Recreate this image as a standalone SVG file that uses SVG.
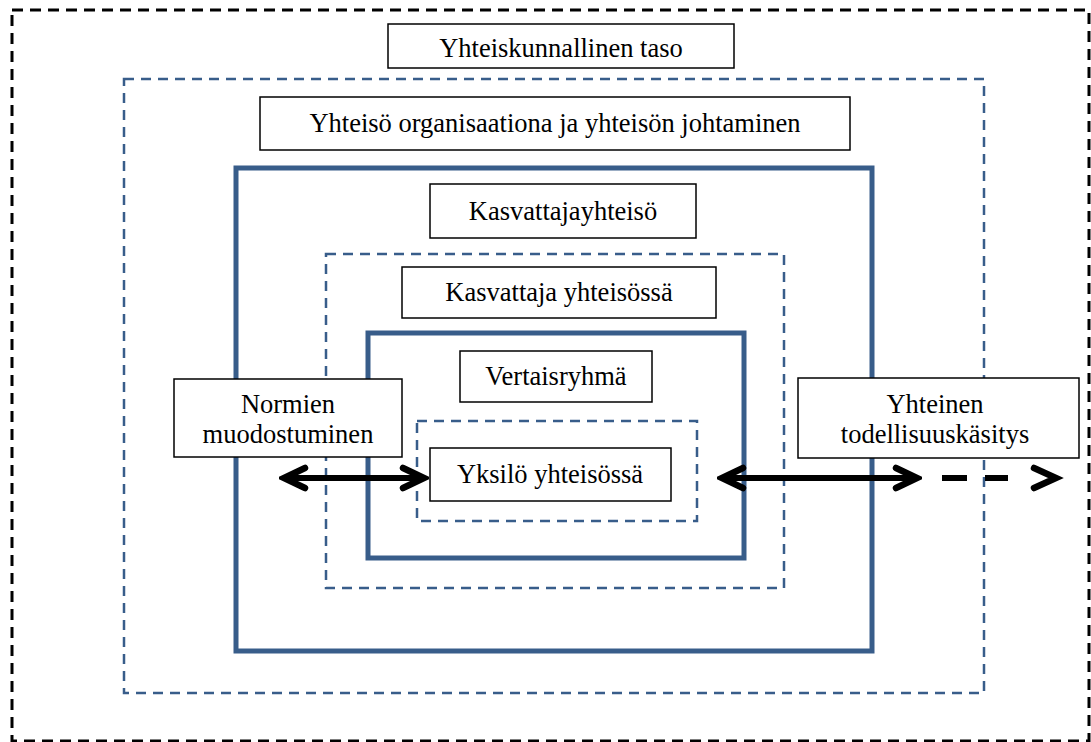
<svg xmlns="http://www.w3.org/2000/svg" width="1091" height="742" viewBox="0 0 1091 742">
  <style>
    .frame-outer { fill: none; stroke: #000; stroke-width: 3; stroke-dasharray: 11 7; }
    .frame-dash { fill: none; stroke: #385D8A; stroke-width: 2.5; stroke-dasharray: 10 7; }
    .frame-solid { fill: none; stroke: #385D8A; stroke-width: 5; }
    .box { fill: #fff; stroke: #000; stroke-width: 1.5; }
    .label { font-size: 26.5px; fill: #000; text-anchor: middle; }
    .arrow { fill: none; stroke: #000; stroke-width: 6; }
    .head { fill: none; stroke: #000; stroke-width: 6.5; stroke-linejoin: miter; stroke-linecap: round; }
  </style>
  <defs>
    <marker id="chevron" markerUnits="userSpaceOnUse" viewBox="-30 -15 34 30" refX="0" refY="0" markerWidth="34" markerHeight="30" orient="auto-start-reverse">
      <path d="M-22,-10 L-1,0 L-22,10" fill="none" stroke="#000" stroke-width="6.5" stroke-linecap="round" stroke-linejoin="miter"/>
    </marker>
  </defs>

  <rect width="1091" height="742" fill="#fff"/>

  <!-- nested levels -->
  <g id="levels">
    <rect class="frame-outer" x="12" y="10" width="1077" height="731"/>
    <rect class="frame-dash" x="124" y="79" width="860" height="614"/>
    <rect class="frame-solid" x="236" y="168" width="636" height="483"/>
    <rect class="frame-dash" x="326" y="254" width="458" height="334"/>
    <rect class="frame-solid" x="368" y="333" width="376" height="225"/>
    <rect class="frame-dash" x="417" y="421" width="280" height="100"/>
  </g>

  <g font-family="'Liberation Serif', Tinos, 'Times New Roman', serif">
    <g id="yhteiskunnallinen-taso">
      <rect class="box" x="388" y="24" width="346" height="44"/>
      <text class="label" x="561" y="57">Yhteiskunnallinen taso</text>
    </g>

    <g id="yhteiso-organisaationa">
      <rect class="box" x="260" y="97" width="590" height="53"/>
      <text class="label" x="555" y="132">Yhteisö organisaationa ja yhteisön johtaminen</text>
    </g>

    <g id="kasvattajayhteiso">
      <rect class="box" x="430" y="184" width="266" height="54"/>
      <text class="label" x="563" y="220">Kasvattajayhteisö</text>
    </g>

    <g id="kasvattaja-yhteisossa">
      <rect class="box" x="402" y="267" width="314" height="51"/>
      <text class="label" x="559" y="301">Kasvattaja yhteisössä</text>
    </g>

    <g id="vertaisryhma">
      <rect class="box" x="460" y="351" width="192" height="51"/>
      <text class="label" x="556" y="385">Vertaisryhmä</text>
    </g>

    <g id="yksilo-yhteisossa">
      <rect class="box" x="430" y="448" width="241" height="53"/>
      <text class="label" x="550" y="483">Yksilö yhteisössä</text>
    </g>

    <g id="normien-muodostuminen">
      <rect class="box" x="174" y="379" width="228" height="78"/>
      <text class="label" x="288" y="413">Normien</text>
      <text class="label" x="288" y="443">muodostuminen</text>
    </g>

    <g id="yhteinen-todellisuuskasitys">
      <rect class="box" x="798" y="378" width="281" height="80"/>
      <text class="label" x="935" y="413">Yhteinen</text>
      <text class="label" x="935" y="443">todellisuuskäsitys</text>
    </g>
  </g>

  <!-- connectors -->
  <g id="connectors">
    <line class="arrow" x1="283" y1="478" x2="425" y2="478" marker-start="url(#chevron)" marker-end="url(#chevron)"/>
    <line class="arrow" x1="721" y1="478" x2="918" y2="478" marker-start="url(#chevron)" marker-end="url(#chevron)"/>
    <line class="arrow" x1="942" y1="478" x2="967" y2="478"/>
    <line class="arrow" x1="985" y1="478" x2="1008" y2="478"/>
    <path class="head" d="M1034,468 L1056,478 L1034,488"/>
  </g>
</svg>
